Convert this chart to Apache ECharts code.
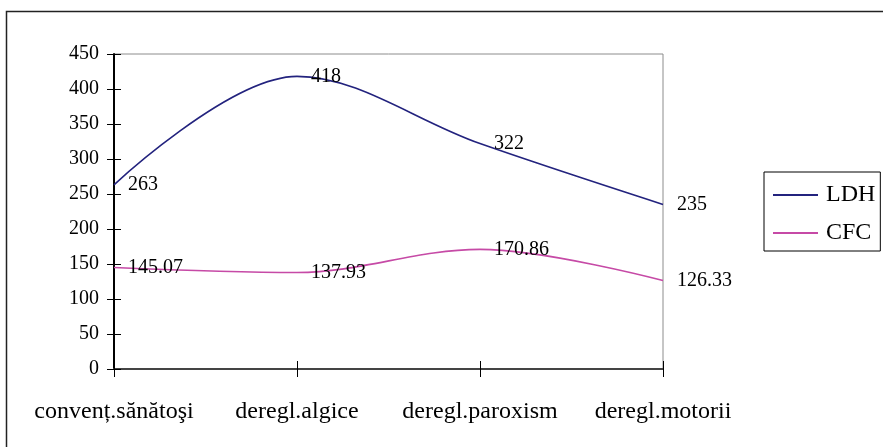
<!DOCTYPE html>
<html>
<head>
<meta charset="utf-8">
<script src="https://cdn.jsdelivr.net/npm/echarts@6/dist/echarts.min.js"></script>
<style>
  html, body { margin: 0; padding: 0; background: #fff; }
  #chart { width: 883px; height: 447px; }
</style>
</head>
<body>
<div id="chart"></div>
<script>
// Categories and measured values
const categories = ['convenț.sănătoşi', 'deregl.algice', 'deregl.paroxism', 'deregl.motorii'];
const ldhValues = [263, 418, 322, 235];
const cfcValues = [145.07, 137.93, 170.86, 126.33];
const yTicks = { min: 0, max: 450, interval: 50 };

const FONT = '"Liberation Serif", "Times New Roman", serif';
const LDH_COLOR = '#23237e';
const CFC_COLOR = '#c64aa6';

const chart = echarts.init(document.getElementById('chart'), null, { renderer: 'canvas' });

const labelStyle = {
  show: true,
  position: 'right',
  distance: 14,
  color: '#000',
  fontFamily: FONT,
  fontSize: 20,
  padding: [9, 0, 0, 0],
  formatter: p => String(p.value)
};

function lineSeries(name, values, color) {
  return {
    name: name,
    type: 'line',
    data: values,
    smooth: 0.35,
    showSymbol: true,
    symbol: 'circle',
    symbolSize: 0.1,
    itemStyle: { color: color },
    color: color,
    lineStyle: { color: color, width: 1.6 },
    label: labelStyle,
    labelLayout: { hideOverlap: false },
    emphasis: { disabled: true },
    z: 3
  };
}

chart.setOption({
  animation: false,
  backgroundColor: '#fff',
  textStyle: { fontFamily: FONT },
  graphic: [{
    type: 'rect',
    shape: { x: 6.5, y: 11.5, width: 900, height: 500 },
    style: { fill: 'none', stroke: '#222', lineWidth: 1.5 },
    z: 0
  }],
  grid: {
    left: 114, top: 54, right: 220, bottom: 78,
    show: true, borderColor: '#8c8c8c', borderWidth: 1, backgroundColor: 'transparent'
  },
  legend: {
    orient: 'vertical',
    left: 764, top: 172,
    padding: [11, 5, 6, 9],
    itemGap: 14,
    itemWidth: 45, itemHeight: 2,
    icon: 'rect',
    borderColor: '#000', borderWidth: 1,
    textStyle: { fontFamily: FONT, fontSize: 24, color: '#000', padding: [0, 0, 0, 3] },
    data: ['LDH', 'CFC']
  },
  xAxis: [{
    type: 'category',
    data: categories,
    boundaryGap: false,
    axisLine: { lineStyle: { color: '#444', width: 2 } },
    axisTick: { show: true, length: 8, lineStyle: { color: '#000', width: 1 } },
    axisLabel: { color: '#000', fontFamily: FONT, fontSize: 24, margin: 31, interval: 0 },
    splitLine: { show: false }
  }, {
    type: 'category',
    data: categories,
    boundaryGap: false,
    position: 'bottom',
    axisLine: { show: false },
    axisTick: { show: true, inside: true, length: 8, lineStyle: { color: '#000', width: 1 } },
    axisLabel: { show: false },
    splitLine: { show: false }
  }],
  yAxis: [{
    type: 'value',
    min: yTicks.min, max: yTicks.max, interval: yTicks.interval,
    axisLine: { show: true, lineStyle: { color: '#000', width: 2 } },
    axisTick: { show: true, length: 7, lineStyle: { color: '#000', width: 1 } },
    axisLabel: { color: '#000', fontFamily: FONT, fontSize: 20, margin: 15 },
    splitLine: { show: false }
  }, {
    type: 'value',
    position: 'left',
    offset: 0,
    min: yTicks.min, max: yTicks.max, interval: yTicks.interval,
    axisLine: { show: false },
    axisTick: { show: true, inside: true, length: 7, lineStyle: { color: '#000', width: 1 } },
    axisLabel: { show: false },
    splitLine: { show: false }
  }],
  series: [
    lineSeries('LDH', ldhValues, LDH_COLOR),
    lineSeries('CFC', cfcValues, CFC_COLOR)
  ]
});
</script>
</body>
</html>
